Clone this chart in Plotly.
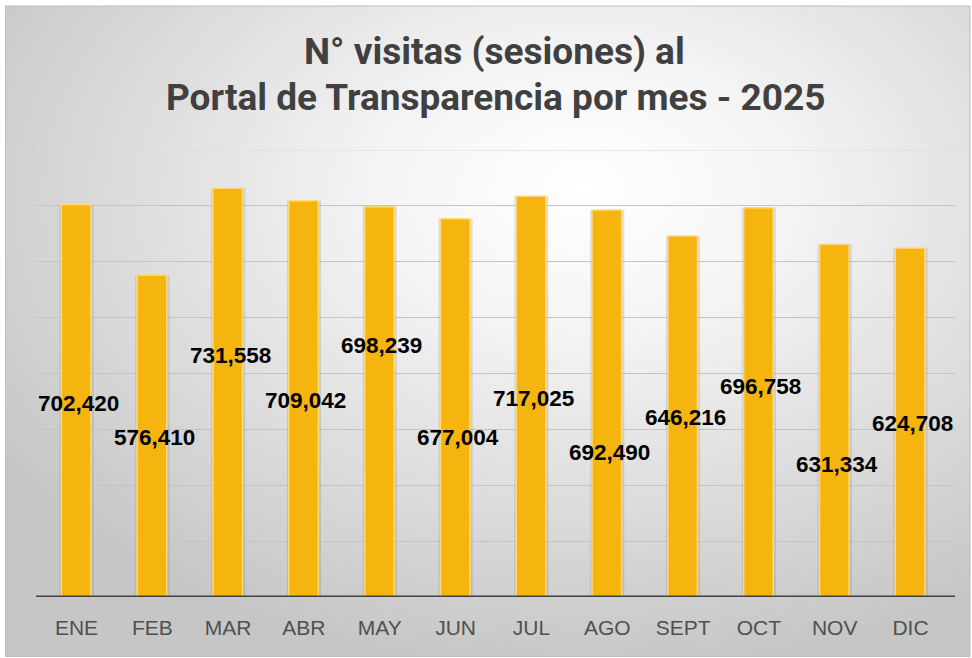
import base64
import plotly.graph_objects as go

# ---- data ----
months = ["ENE", "FEB", "MAR", "ABR", "MAY", "JUN", "JUL", "AGO", "SEPT", "OCT", "NOV", "DIC"]
visits = [702420, 576410, 731558, 709042, 698239, 677004, 717025, 692490, 646216, 696758, 631334, 624708]
# heights (in axis units) at which the value labels sit in the original
label_heights = [347000, 286000, 433000, 351000, 451000, 286000, 356000, 259000, 322000, 376000, 238000, 311000]

W, H = 972, 658
L, R, T, B = 36, 17, 150, 61

fig = go.Figure()

# subtle shadow around each bar
fig.add_trace(go.Bar(
    x=months, y=visits, marker=dict(color="rgba(90,70,60,0.15)", line=dict(width=0)),
    width=0.45, offset=-0.225, hoverinfo="skip", showlegend=False,
))
fig.add_trace(go.Bar(
    x=months, y=visits,
    marker=dict(color="#F5B50E", line=dict(color="#FCDB7A", width=1.5)),
    width=0.39, offset=-0.2, showlegend=False,
))

for m, h, v in zip(months, label_heights, visits):
    fig.add_annotation(x=m, y=h, text=f"<b>{v:,}</b>", showarrow=False, xshift=2,
                       font=dict(family="Liberation Sans, Arial", size=22.5, color="#000000"),
                       xref="x", yref="y")

# background gradient (radial) as an svg image
svg = f'''<svg xmlns="http://www.w3.org/2000/svg" width="{W}" height="{H}">
<defs><radialGradient id="g" cx="0.6" cy="0.3" r="0.72" fx="0.6" fy="0.28">
<stop offset="0" stop-color="#FFFFFF"/><stop offset="0.3" stop-color="#F4F4F4"/>
<stop offset="1" stop-color="#C6C6C6"/></radialGradient></defs>
<rect x="0" y="0" width="{W}" height="{H}" fill="url(#g)"/></svg>'''
src = "data:image/svg+xml;base64," + base64.b64encode(svg.encode()).decode()

pw, ph = W - L - R, H - T - B
def px(x):
    return (x - L) / pw
def py(y):
    return (H - B - y) / ph

fig.add_layout_image(dict(source=src, xref="paper", yref="paper",
                          x=px(6), y=py(6), sizex=(970 - 6) / pw, sizey=(656 - 6) / ph,
                          xanchor="left", yanchor="top", sizing="stretch", layer="below"))
fig.add_shape(type="rect", xref="paper", yref="paper", x0=px(5.5), x1=px(970), y0=py(6), y1=py(656.5),
              line=dict(color="#BDBDBD", width=1), layer="below")

# top gridline (at range edge)
fig.add_shape(type="line", xref="paper", yref="y", x0=0, x1=1, y0=800000, y1=800000,
              line=dict(color="#DADADA", width=1), layer="below")
# baseline
fig.add_shape(type="line", xref="paper", yref="y", x0=0, x1=1, y0=0, y1=0,
              line=dict(color="#404040", width=3), layer="above")

# title lines
fig.add_annotation(text="<b>N° visitas (sesiones) al</b>", xref="paper", yref="paper",
                   x=px(494), y=py(51), showarrow=False, yanchor="middle", xanchor="center",
                   font=dict(family="Roboto", size=37, color="#404040"))
fig.add_annotation(text="<b>Portal de Transparencia por mes - 2025</b>", xref="paper", yref="paper",
                   x=px(495), y=py(97), showarrow=False, yanchor="middle", xanchor="center",
                   font=dict(family="Roboto", size=37, color="#404040"))

fig.update_layout(
    width=W, height=H,
    margin=dict(l=L, r=R, t=T, b=B),
    paper_bgcolor="#FFFFFF", plot_bgcolor="rgba(0,0,0,0)",
    barmode="overlay",
    xaxis=dict(showgrid=False, showline=False, ticks="", zeroline=False, ticklabelstandoff=16,
               tickfont=dict(family="Liberation Sans, Arial", size=21, color="#505050")),
    yaxis=dict(range=[0, 800000], dtick=100000, showgrid=True, gridcolor="#C4C4C4", gridwidth=1,
               showticklabels=False, zeroline=False, showline=False),
)

fig.write_html("out.html", config={"displayModeBar": False},
               post_script="document.body.style.margin='0';document.body.style.overflow='hidden';")
